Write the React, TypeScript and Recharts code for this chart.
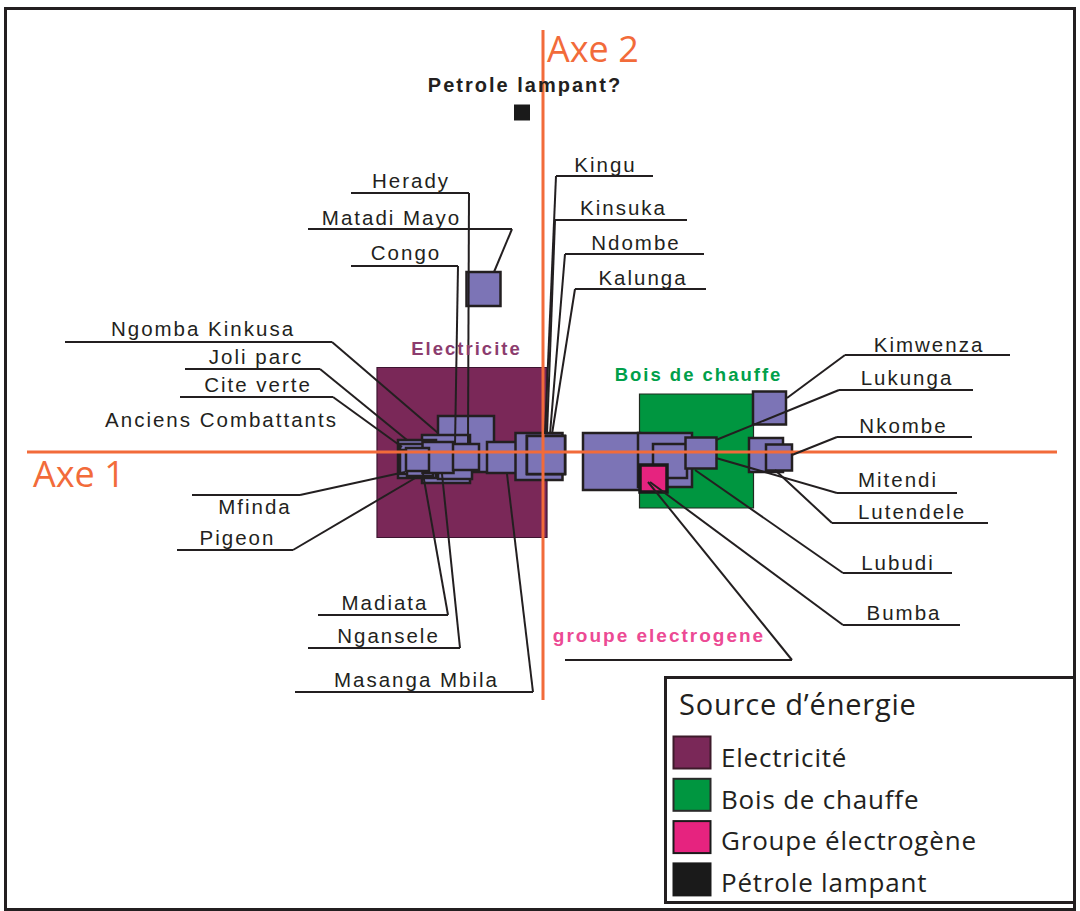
import React from 'react';
import { ScatterChart, Scatter, XAxis, YAxis, ReferenceArea, ReferenceLine, ReferenceDot } from 'recharts';

const W = 1080;
const H = 911;
const X_DOMAIN: [number, number] = [-5.43, 5.37];
const Y_DOMAIN: [number, number] = [-4.59, 4.52];

// factor axes extents
const axis1 = { from: -5.16, to: 5.14 };
const axis2 = { from: -2.48, to: 4.22 };

// energy-source modalities (squares)
const modalitiesBack = [
  { name: 'Electricite', x: -0.81, y: -0.005, s: 1.7, fill: '#7a2858', stroke: '#3d1430', sw: 1.2 },
  { name: 'Bois de chauffe', x: 1.535, y: 0.01, s: 1.14, fill: '#009640', stroke: '#1f2a1f', sw: 1.2 },
];
const modalitiesFront = [
  { name: 'Groupe electrogene', x: 1.105, y: -0.265, s: 0.27, fill: '#e6237f', stroke: '#1a1a1a', sw: 3.5 },
  { name: 'Petrole lampant', x: -0.21, y: 3.395, s: 0.16, fill: '#1a1a1a', stroke: '#1a1a1a', sw: 0 },
];

// sites (quartiers), drawn in this order
const sites = [
  { name: 'Ngomba Kinkusa', x: -0.77, y: 0.08, s: 0.56 },
  { name: 'Ngansele', x: -0.97, y: -0.07, s: 0.48 },
  { name: 'Joli parc', x: -1.26, y: -0.07, s: 0.38 },
  { name: 'Cite verte', x: -1.29, y: -0.06, s: 0.28 },
  { name: 'Mfinda', x: -1.31, y: -0.1, s: 0.24 },
  { name: 'Pigeon', x: -1.23, y: -0.11, s: 0.26 },
  { name: 'Congo', x: -0.88, y: -0.1, s: 0.34 },
  { name: 'Madiata', x: -1.05, y: -0.055, s: 0.31 },
  { name: 'Herady', x: -0.77, y: -0.05, s: 0.26 },
  { name: 'Anciens Combattants', x: -1.255, y: -0.075, s: 0.23 },
  { name: 'Masanga Mbila', x: -0.405, y: -0.055, s: 0.31 },
  { name: 'Matadi Mayo', x: -0.595, y: 1.63, s: 0.34 },
  { name: 'Kingu', x: -0.04, y: -0.045, s: 0.47 },
  { name: 'Ndombe', x: 0.03, y: -0.03, s: 0.38 },
  { name: 'Kalunga', x: 0.03, y: -0.03, s: 0.38 },
  { name: 'Kinsuka', x: 0.03, y: -0.03, s: 0.38 },
  { name: 'Bumba', x: 0.685, y: -0.095, s: 0.57 },
  { name: 'Lubudi', x: 1.22, y: -0.08, s: 0.54 },
  { name: 'Mitendi', x: 1.27, y: -0.09, s: 0.34 },
  { name: 'Lukunga', x: 1.58, y: -0.01, s: 0.31 },
  { name: 'Kimwenza', x: 2.265, y: 0.44, s: 0.33 },
  { name: 'Lutendele', x: 2.23, y: -0.03, s: 0.34 },
  { name: 'Nkombe', x: 2.36, y: -0.055, s: 0.26 },
];

// site labels: text centre/baseline, underline, leader tip
const siteLabels = [
  { name: 'Herady', tx: -1.32, ty: 2.64, u1: -1.92, u2: -0.74, uy: 2.59, side: 'r', px: -0.75, py: 0.09 },
  { name: 'Matadi Mayo', tx: -1.515, ty: 2.27, u1: -2.35, u2: -0.31, uy: 2.23, side: 'r', px: -0.49, py: 1.8 },
  { name: 'Congo', tx: -1.37, ty: 1.92, u1: -1.92, u2: -0.85, uy: 1.86, side: 'r', px: -0.88, py: 0.07 },
  { name: 'Ngomba Kinkusa', tx: -3.4, ty: 1.16, u1: -4.78, u2: -2.11, uy: 1.1, side: 'r', px: -1.05, py: 0.19 },
  { name: 'Joli parc', tx: -2.87, ty: 0.88, u1: -3.58, u2: -2.23, uy: 0.83, side: 'r', px: -1.36, py: 0.12 },
  { name: 'Cite verte', tx: -2.85, ty: 0.6, u1: -3.63, u2: -2.1, uy: 0.55, side: 'r', px: -1.41, py: 0.05 },
  { name: 'Anciens Combattants', tx: -3.215, ty: 0.25, u1: null, u2: null, uy: null, side: 'r', px: null, py: null },
  { name: 'Mfinda', tx: -2.88, ty: -0.62, u1: -3.51, u2: -2.43, uy: -0.43, side: 'r', px: -1.38, py: -0.2 },
  { name: 'Pigeon', tx: -3.055, ty: -0.93, u1: -3.66, u2: -2.5, uy: -0.98, side: 'r', px: -1.26, py: -0.25 },
  { name: 'Madiata', tx: -1.58, ty: -1.58, u1: -2.25, u2: -0.95, uy: -1.63, side: 'r', px: -1.2, py: -0.22 },
  { name: 'Ngansele', tx: -1.545, ty: -1.91, u1: -2.35, u2: -0.83, uy: -1.96, side: 'r', px: -1.01, py: -0.22 },
  { name: 'Masanga Mbila', tx: -1.265, ty: -2.35, u1: -2.48, u2: -0.1, uy: -2.4, side: 'r', px: -0.36, py: -0.22 },
  { name: 'Kingu', tx: 0.625, ty: 2.8, u1: 0.13, u2: 1.1, uy: 2.76, side: 'l', px: 0.02, py: 0.18 },
  { name: 'Kinsuka', tx: 0.805, ty: 2.37, u1: 0.12, u2: 1.44, uy: 2.32, side: 'l', px: 0.04, py: 0.18 },
  { name: 'Ndombe', tx: 0.93, ty: 2.02, u1: 0.22, u2: 1.61, uy: 1.98, side: 'l', px: 0.07, py: 0.18 },
  { name: 'Kalunga', tx: 1.0, ty: 1.67, u1: 0.32, u2: 1.63, uy: 1.63, side: 'l', px: 0.09, py: 0.18 },
  { name: 'Kimwenza', tx: 3.86, ty: 1.0, u1: 3.02, u2: 4.67, uy: 0.97, side: 'l', px: 2.44, py: 0.54 },
  { name: 'Lukunga', tx: 3.64, ty: 0.67, u1: 2.96, u2: 4.3, uy: 0.62, side: 'l', px: 1.73, py: 0.12 },
  { name: 'Nkombe', tx: 3.605, ty: 0.19, u1: 2.94, u2: 4.29, uy: 0.15, side: 'l', px: 2.49, py: -0.03 },
  { name: 'Mitendi', tx: 3.55, ty: -0.35, u1: 2.94, u2: 4.14, uy: -0.41, side: 'l', px: 1.73, py: -0.06 },
  { name: 'Lutendele', tx: 3.69, ty: -0.67, u1: 2.89, u2: 4.45, uy: -0.71, side: 'l', px: 2.32, py: -0.18 },
  { name: 'Lubudi', tx: 3.55, ty: -1.18, u1: 3.0, u2: 4.09, uy: -1.21, side: 'l', px: 1.52, py: -0.18 },
  { name: 'Bumba', tx: 3.61, ty: -1.68, u1: 3.0, u2: 4.17, uy: -1.73, side: 'l', px: 1.07, py: -0.3 },
];

// modality labels
const modalityLabels = [
  { text: 'Electricite', tx: -0.765, ty: 0.97, color: '#8c3c6e', size: 18.5, u1: null, u2: null, uy: null, px: null, py: null },
  { text: 'Bois de chauffe', tx: 1.555, ty: 0.71, color: '#00a04a', size: 18.5, u1: null, u2: null, uy: null, px: null, py: null },
  { text: 'groupe electrogene', tx: 1.16, ty: -1.9, color: '#ec4a94', size: 19, u1: 0.22, u2: 2.49, uy: -2.08, px: 1.05, py: -0.3 },
  { text: 'Petrole lampant?', tx: -0.18, ty: 3.6, color: '#231f20', size: 20, u1: null, u2: null, uy: null, px: null, py: null },
];

const axisTitles = [
  { text: 'Axe 1', tx: -5.1, ty: -0.35 },
  { text: 'Axe 2', tx: 0.04, ty: 3.9 },
];

const legendTitle = 'Source d\u2019énergie';
const legendItems = [
  { label: 'Electricité', fill: '#7a2858', stroke: '#3d1a2a' },
  { label: 'Bois de chauffe', fill: '#009640', stroke: '#2a2a2a' },
  { label: 'Groupe électrogène', fill: '#e6237f', stroke: '#1a1a1a' },
  { label: 'Pétrole lampant', fill: '#1a1a1a', stroke: '#1a1a1a' },
];

const INK = '#231f20';
const ORANGE = '#f26b3a';
const SITE_FILL = '#7c74b6';

const textShape = (text: string, style: any) => (props: any) => (
  <text x={props.cx} y={props.cy} {...style}>{text}</text>
);

const siteFont = {
  fontFamily: '"Liberation Sans", Arial, sans-serif',
  fontSize: 20.5,
  letterSpacing: 2.0,
  fill: INK,
  textAnchor: 'middle',
};

export default function App() {
  const square = (d: any, key: string, fill: string, stroke: string, sw: number) => (
    <ReferenceArea
      key={key}
      x1={d.x - d.s / 2}
      x2={d.x + d.s / 2}
      y1={d.y - d.s / 2}
      y2={d.y + d.s / 2}
      fill={fill}
      fillOpacity={1}
      stroke={stroke}
      strokeWidth={sw}
      strokeOpacity={sw > 0 ? 1 : 0}
      ifOverflow="visible"
    />
  );

  const seg = (key: string, a: [number, number], b: [number, number], color = INK, w = 2) => (
    <ReferenceLine
      key={key}
      segment={[{ x: a[0], y: a[1] }, { x: b[0], y: b[1] }]}
      stroke={color}
      strokeWidth={w}
      ifOverflow="visible"
    />
  );

  return (
    <div style={{ position: 'absolute', left: 0, top: 0, width: W, height: H, background: '#fff' }}>
      <ScatterChart width={W} height={H} margin={{ top: 0, right: 0, bottom: 0, left: 0 }}>
        <XAxis type="number" dataKey="x" domain={X_DOMAIN} allowDataOverflow hide />
        <YAxis type="number" dataKey="y" domain={Y_DOMAIN} allowDataOverflow hide />

        {seg('axis1', [axis1.from, 0], [axis1.to, 0], ORANGE, 3)}
        {seg('axis2', [0, axis2.from], [0, axis2.to], ORANGE, 3)}

        {modalitiesBack.map((m) => square(m, 'mb-' + m.name, m.fill, m.stroke, m.sw))}
        {sites.map((s) => square(s, 'site-' + s.name, SITE_FILL, INK, 2.5))}
        {modalitiesFront.map((m) => square(m, 'mf-' + m.name, m.fill, m.stroke, m.sw))}

        {siteLabels.filter((l) => l.u1 !== null).map((l) =>
          seg('u-' + l.name, [l.u1 as number, l.uy as number], [l.u2 as number, l.uy as number])
        )}
        {siteLabels.filter((l) => l.u1 !== null).map((l) =>
          seg(
            'k-' + l.name,
            [(l.side === 'r' ? l.u2 : l.u1) as number, l.uy as number],
            [l.px as number, l.py as number]
          )
        )}
        {modalityLabels.filter((l) => l.u1 !== null).map((l) =>
          seg('mu-' + l.text, [l.u1 as number, l.uy as number], [l.u2 as number, l.uy as number])
        )}
        {modalityLabels.filter((l) => l.u1 !== null).map((l) =>
          seg('mk-' + l.text, [l.u2 as number, l.uy as number], [l.px as number, l.py as number])
        )}

        {siteLabels.map((l) => (
          <ReferenceDot key={'t-' + l.name} x={l.tx} y={l.ty} r={0} ifOverflow="visible" shape={textShape(l.name, siteFont)} />
        ))}
        {modalityLabels.map((l) => (
          <ReferenceDot
            key={'mt-' + l.text}
            x={l.tx}
            y={l.ty}
            r={0}
            ifOverflow="visible"
            shape={textShape(l.text, {
              fontFamily: '"Liberation Sans", Arial, sans-serif',
              fontWeight: 'bold',
              fontSize: l.size,
              letterSpacing: 2.0,
              fill: l.color,
              textAnchor: 'middle',
            })}
          />
        ))}
        {axisTitles.map((a) => (
          <ReferenceDot
            key={'ax-' + a.text}
            x={a.tx}
            y={a.ty}
            r={0}
            ifOverflow="visible"
            shape={textShape(a.text, { fontFamily: '"Open Sans", sans-serif', fontSize: 36, fill: ORANGE, textAnchor: 'start' })}
          />
        ))}

        <Scatter data={sites} isAnimationActive={false} shape={() => <g />} />
      </ScatterChart>

      <div
        style={{
          position: 'absolute',
          left: 4,
          top: 7,
          width: 1072,
          height: 904,
          border: '3px solid #231f20',
          boxSizing: 'border-box',
          pointerEvents: 'none',
        }}
      />

      <div style={{ position: 'absolute', left: 664, top: 676, width: 412, height: 228 }}>
        <svg width={412} height={228}>
          <rect x={1.5} y={1.5} width={409} height={225} fill="#fff" stroke={INK} strokeWidth={3} />
          <text x={15} y={39} fontFamily='"Open Sans", sans-serif' fontSize={29} letterSpacing={0.8} fill={INK}>
            {legendTitle}
          </text>
          {legendItems.map((it, i) => (
            <g key={it.label}>
              <rect x={9.5} y={60.5 + i * 42.3} width={37} height={32} fill={it.fill} stroke={it.stroke} strokeWidth={2} />
              <text x={57} y={91 + i * 41.7} fontFamily='"Open Sans", sans-serif' fontSize={26} letterSpacing={0.8} fill={INK}>
                {it.label}
              </text>
            </g>
          ))}
        </svg>
      </div>
    </div>
  );
}
